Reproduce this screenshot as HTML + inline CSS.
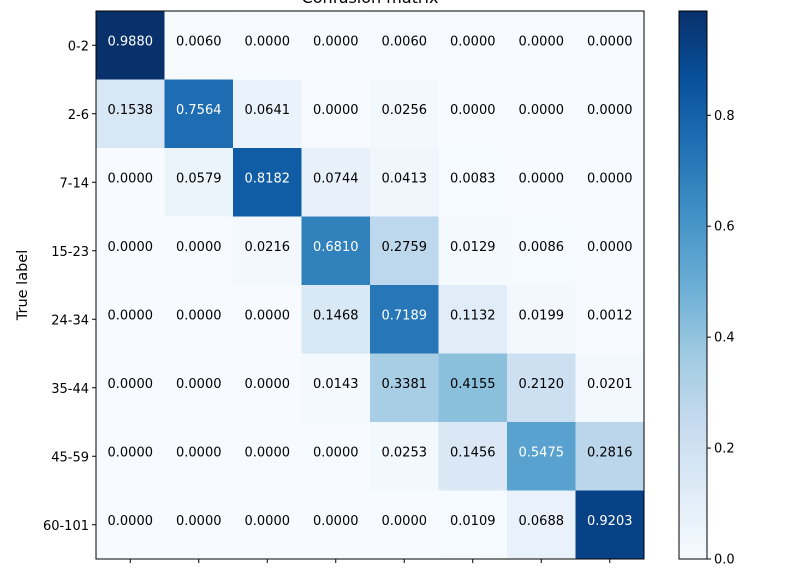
<!DOCTYPE html>
<html><head><meta charset="utf-8"><style>
html,body{margin:0;padding:0;background:#fff;overflow:hidden;width:798px;height:572px;}
svg{display:block;font-family:"DejaVu Sans","Liberation Sans",sans-serif;overflow:hidden;}
</style></head><body>
<svg id="chart" width="798" height="572"></svg>
<script>
const rowLabels = ["0-2","2-6","7-14","15-23","24-34","35-44","45-59","60-101"];
const colLabels = ["0-2","2-6","7-14","15-23","24-34","35-44","45-59","60-101"];
const row0 = [0.9880,0.0060,0.0000,0.0000,0.0060,0.0000,0.0000,0.0000];
const row1 = [0.1538,0.7564,0.0641,0.0000,0.0256,0.0000,0.0000,0.0000];
const row2 = [0.0000,0.0579,0.8182,0.0744,0.0413,0.0083,0.0000,0.0000];
const row3 = [0.0000,0.0000,0.0216,0.6810,0.2759,0.0129,0.0086,0.0000];
const row4 = [0.0000,0.0000,0.0000,0.1468,0.7189,0.1132,0.0199,0.0012];
const row5 = [0.0000,0.0000,0.0000,0.0143,0.3381,0.4155,0.2120,0.0201];
const row6 = [0.0000,0.0000,0.0000,0.0000,0.0253,0.1456,0.5475,0.2816];
const row7 = [0.0000,0.0000,0.0000,0.0000,0.0000,0.0109,0.0688,0.9203];
const matrix = [row0,row1,row2,row3,row4,row5,row6,row7];
const cbTicks = [0.0,0.2,0.4,0.6,0.8];

const NS="http://www.w3.org/2000/svg";
const svg=document.getElementById('chart');
function mk(t,a,p){const e=document.createElementNS(NS,t);for(const k in a)e.setAttribute(k,a[k]);(p||svg).appendChild(e);return e;}
const stops=["#f7fbff","#deebf7","#c6dbef","#9ecae1","#6baed6","#4292c6","#2171b5","#08519c","#08306b"].map(h=>[1,3,5].map(i=>parseInt(h.substr(i,2),16)));
function blues(t){t=Math.max(0,Math.min(1,t));const s=t*8,i=Math.min(7,Math.floor(s)),f=s-i;const c=stops[i].map((v,k)=>Math.round(v+(stops[i+1][k]-v)*f));return `rgb(${c[0]},${c[1]},${c[2]})`;}
const L=96,T=11,R=644,B=559;
const n=rowLabels.length;
const cw=(R-L)/colLabels.length, ch=(B-T)/n;
let vmax=0; matrix.forEach(r=>r.forEach(v=>{if(v>vmax)vmax=v;}));
const vmin=0;
const xPos=j=>L+j*cw, yPos=i=>T+i*ch;
const norm=v=>(v-vmin)/(vmax-vmin);

const title=mk('text',{x:(L+R)/2,y:3,'text-anchor':'middle','font-size':'16'});
title.textContent="Confusion matrix";



const g=mk('g',{});


matrix.forEach((r,i)=>r.forEach((v,j)=>{
  const c=mk('rect',{x:xPos(j),y:yPos(i),width:cw+0.5,height:ch+0.5,fill:blues(norm(v))},g);
  
  
}));
matrix.forEach((r,i)=>r.forEach((v,j)=>{
  const t=mk('text',{x:xPos(j)+cw/2,y:yPos(i)+ch/2,'text-anchor':'middle','font-size':'13',fill:v>vmax/2?'#fff':'#000'});
  t.textContent=v.toFixed(4);
  
  
}));
const fr=mk('rect',{x:L,y:T,width:R-L,height:B-T,fill:'none',stroke:'#000','stroke-width':1});


rowLabels.forEach((lab,i)=>{
  const y=yPos(i)+ch/2;
  mk('line',{x1:L-4,x2:L,y1:y,y2:y,stroke:'#000'});
  const t=mk('text',{x:L-7,y:y+5,'text-anchor':'end','font-size':'13'});
  t.textContent=lab;
  
  
});
colLabels.forEach((lab,j)=>{
  const x=xPos(j)+cw/2;
  mk('line',{x1:x,x2:x,y1:B,y2:B+4,stroke:'#000'});
  const t=mk('text',{x:x+4,y:B+22,'text-anchor':'end','font-size':'13',transform:`rotate(-45 ${x+4} ${B+22})`});
  t.textContent=lab;
  
  
});
const yl=mk('text',{x:27,y:285,'text-anchor':'middle','font-size':'14.5',transform:'rotate(-90 27 285)'});
yl.textContent="True label";



const CL=679,CR=707;
const defs=mk('defs',{});
const lg=mk('linearGradient',{id:'cbg',x1:0,y1:1,x2:0,y2:0},defs);
for(let k=0;k<=8;k++)mk('stop',{offset:k/8,'stop-color':blues(k/8)},lg);
const cb=mk('rect',{x:CL,y:T,width:CR-CL,height:B-T,fill:'url(#cbg)',stroke:'#000'});


const cy=v=>B-(v-vmin)/(vmax-vmin)*(B-T);
cbTicks.forEach(v=>{
  const y=cy(v);
  mk('line',{x1:CR,x2:CR+4,y1:y,y2:y,stroke:'#000'});
  const t=mk('text',{x:CR+7,y:y+4.5,'font-size':'13'});
  t.textContent=v.toFixed(1);
  
  
});
</script>
</body></html>
